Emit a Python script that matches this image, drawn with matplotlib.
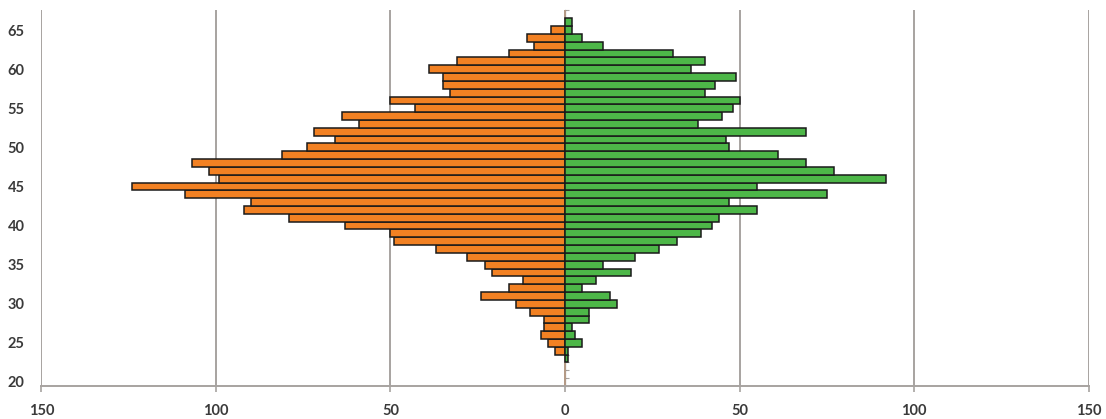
import numpy as np
import matplotlib
matplotlib.use("Agg")
import matplotlib.pyplot as plt
from matplotlib.ticker import FuncFormatter

# ages 20..67, counts per side
ages = np.arange(20, 68)
left_counts = [0, 0, 0, 0, 3, 5, 7, 6, 6, 10,
               14, 24, 16, 12, 21, 23, 28, 37, 49, 50,
               63, 79, 92, 90, 109, 124, 99, 102, 107, 81,
               74, 66, 72, 59, 64, 43, 50, 33, 35, 35,
               39, 31, 16, 9, 11, 4, 0, 0]
right_counts = [0, 0, 0, 1, 1, 5, 3, 2, 7, 7,
                15, 13, 5, 9, 19, 11, 20, 27, 32, 39,
                42, 44, 55, 47, 75, 55, 92, 77, 69, 61,
                47, 46, 69, 38, 45, 48, 50, 40, 43, 49,
                36, 40, 31, 11, 5, 2, 2, 0]
age_ticks = [20, 25, 30, 35, 40, 45, 50, 55, 60, 65]
x_ticks = [-150, -100, -50, 0, 50, 100, 150]

plt.rcParams["font.family"] = ["Lato", "DejaVu Sans"]
fig = plt.figure(figsize=(11.06, 4.19), dpi=100)
ax = fig.add_axes([0.0375, 0.079, 0.9467, 0.896])

left = np.array(left_counts)
right = np.array(right_counts)
ml = left > 0
mr = right > 0
ax.barh(ages[ml], -left[ml], height=1.0, color="#F28123", edgecolor="#1a1a1a",
        linewidth=1.1, zorder=3)
ax.barh(ages[mr], right[mr], height=1.0, color="#4DB748", edgecolor="#1a1a1a",
        linewidth=1.1, zorder=3)

ax.set_xlim(-150, 150)
ax.set_ylim(19.5, 67.5)
ax.set_xticks(x_ticks)
ax.xaxis.set_major_formatter(FuncFormatter(lambda v, p: f"{abs(v):.0f}"))
ax.set_yticks(age_ticks)

ax.grid(axis="x", color="#A7A3A0", linewidth=1.4, zorder=0)
ax.axvline(0, color="#B59A86", linewidth=1.4, zorder=2)

for s in ["top", "right", "left"]:
    ax.spines[s].set_visible(False)
ax.spines["bottom"].set_color("#A7A3A0")
ax.spines["bottom"].set_linewidth(1.4)

ax.tick_params(axis="x", length=4, width=1.2, color="#A7A3A0", pad=9,
               labelsize=10.5, labelcolor="#3a3a3a")
ax.tick_params(axis="y", length=0, pad=12, labelsize=10.5, labelcolor="#3a3a3a")
for lab in ax.get_xticklabels() + ax.get_yticklabels():
    lab.set_fontweight("bold")

# small category ticks along the centre axis
sec = ax.secondary_yaxis(0.5)
sec.set_yticks(np.arange(19.5, 68, 1.0))
sec.set_yticklabels([])
sec.tick_params(length=3, width=0.8, color="#A7A3A0", direction="out")
sec.spines["left"].set_visible(False)

fig.savefig("out.png", dpi=100)
